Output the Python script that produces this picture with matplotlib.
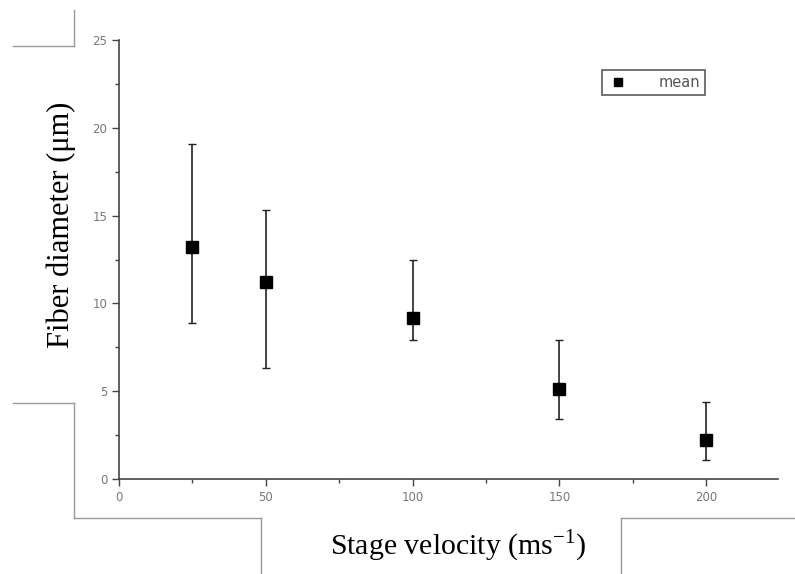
import matplotlib.pyplot as plt
from matplotlib.lines import Line2D
from matplotlib.ticker import MultipleLocator

# data
velocity = [25, 50, 100, 150, 200]
diameter = [13.2, 11.2, 9.2, 5.1, 2.2]
err_low = [4.3, 4.9, 1.3, 1.7, 1.1]
err_high = [5.9, 4.1, 3.3, 2.8, 2.2]

fig = plt.figure(figsize=(7.95, 5.74), dpi=100)
ax = fig.add_axes([0.1497, 0.1655, 0.829, 0.7645])

ax.errorbar(velocity, diameter, yerr=[err_low, err_high], fmt='s', color='black',
            markersize=8, ecolor='#222222', elinewidth=1.2, capsize=3, capthick=1)

ax.set_xlim(0, 224.5)
ax.set_ylim(0, 25)
ax.xaxis.set_major_locator(MultipleLocator(50))
ax.xaxis.set_minor_locator(MultipleLocator(25))
ax.yaxis.set_major_locator(MultipleLocator(5))
ax.yaxis.set_minor_locator(MultipleLocator(2.5))
for s in ['top', 'right']:
    ax.spines[s].set_visible(False)
for s in ['left', 'bottom']:
    ax.spines[s].set_color('#444444')
    ax.spines[s].set_linewidth(1.2)
ax.tick_params(which='major', direction='out', length=5, width=1, color='#444444',
               labelsize=8.5, labelcolor='#777777')
ax.tick_params(which='minor', direction='out', length=3, width=1, color='#444444')

ax.set_xlabel('Stage velocity (ms$^{\\mathregular{-1}}$)', family='Liberation Serif', fontsize=21.5)
ax.xaxis.set_label_coords(0.515, -0.11)
ax.set_ylabel('Fiber diameter (\u03bcm)', family='Liberation Serif', fontsize=22)
ax.yaxis.set_label_coords(-0.066, 0.58)

# legend shows only the square marker
proxy = Line2D([], [], marker='s', linestyle='none', color='black', markersize=6)
leg = ax.legend([proxy], ['mean'], loc='upper left', bbox_to_anchor=(0.733, 0.932),
                fontsize=10.5, frameon=True, fancybox=False, edgecolor='#333333',
                handletextpad=2.0, borderpad=0.35, handlelength=1.5, borderaxespad=0)
leg.get_frame().set_linewidth(1.2)
for t in leg.get_texts():
    t.set_color('#555555')

# faint scan frame lines around the figure
W, H = 795, 574
frame = [
    [(13, 74), (46, 46)], [(74, 74), (10, 46)],
    [(13, 74), (403, 403)], [(74, 74), (403, 518)], [(74, 261), (518, 518)],
    [(261, 261), (518, 574)], [(621, 795), (518, 518)], [(621, 621), (518, 574)],
]
for xs, ys in frame:
    fig.add_artist(Line2D([x / W for x in xs], [1 - y / H for y in ys],
                          color='#999999', linewidth=1))

fig.savefig('out.png', dpi=100)
